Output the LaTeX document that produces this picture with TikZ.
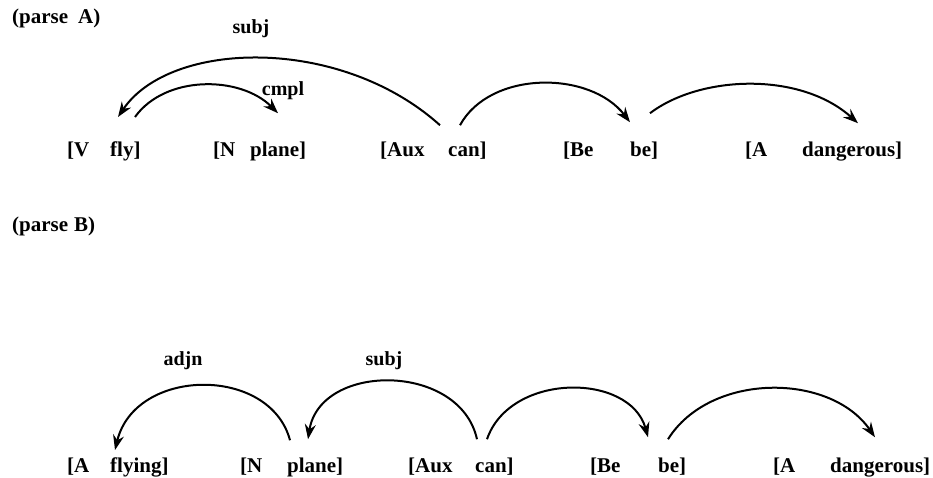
\documentclass[tikz,border=0pt]{standalone}
\usepackage{fontspec}
\setmainfont{Liberation Serif}
\usetikzlibrary{arrows.meta}

\tikzset{
  tok/.style={anchor=base west, inner sep=0pt, font=\fontsize{21}{25}\selectfont\bfseries},
  rel/.style={anchor=base, inner sep=0pt, font=\fontsize{20}{24}\selectfont\bfseries},
  dep/.style={line width=2pt, -{Stealth[length=15pt,width=11pt,inset=5pt]}},
}

\begin{document}
\begin{tikzpicture}[x=1pt, y=-1pt]
    \useasboundingbox (0,0) rectangle (933,478);

    % parse A
    \node[tok] (titleA) at (12,24) {(parse\hspace{10pt}A)};

    \node[tok] (catA1) at (67,157) {[V};
    \node[tok] (wordA1) at (110,157) {fly]};
    \node[tok] (catA2) at (213,157) {[N};
    \node[tok] (wordA2) at (250,157) {plane]};
    \node[tok] (catA3) at (380,157) {[Aux};
    \node[tok] (wordA3) at (448,157) {can]};
    \node[tok] (catA4) at (563,157) {[Be};
    \node[tok] (wordA4) at (630,157) {be]};
    \node[tok] (catA5) at (745,157) {[A};
    \node[tok] (wordA5) at (802,157) {dangerous]};

    \draw[dep] ([xshift=-8pt,yshift=17pt]wordA3.north west)
        .. controls +(-100,-90) and +(52,-77) .. ([xshift=8pt,yshift=25pt]wordA1.north west);
    \node[rel] (subjA) at (251,34) {subj};
    \draw[dep] ([xshift=25pt,yshift=25pt]wordA1.north west)
        .. controls +(30,-42) and +(-38,-38) .. ([xshift=28pt,yshift=29pt]wordA2.north west);
    \node[rel] (cmplA) at (283,96) {cmpl};
    \draw[dep] ([xshift=12pt,yshift=17pt]wordA3.north west)
        .. controls +(30,-55) and +(-40,-52) .. ([yshift=20pt]wordA4.north west);
    \draw[dep] ([xshift=20pt,yshift=29pt]wordA4.north west)
        .. controls +(50,-38) and +(-58,-52) .. ([xshift=56pt,yshift=19pt]wordA5.north west);

    % parse B
    \node[tok] (titleB) at (12,232) {(parse\hspace{6pt}B)};

    \node[tok] (catB1) at (67,472) {[A};
    \node[tok] (wordB1) at (110,472) {flying]};
    \node[tok] (catB2) at (240,472) {[N};
    \node[tok] (wordB2) at (287,472) {plane]};
    \node[tok] (catB3) at (408,472) {[Aux};
    \node[tok] (wordB3) at (475,472) {can]};
    \node[tok] (catB4) at (590,472) {[Be};
    \node[tok] (wordB4) at (658,472) {be]};
    \node[tok] (catB5) at (773,472) {[A};
    \node[tok] (wordB5) at (830,472) {dangerous]};

    \draw[dep] ([xshift=3pt,yshift=17pt]wordB2.north west)
        .. controls +(-20,-75) and +(20,-83) .. ([xshift=5pt,yshift=7pt]wordB1.north west);
    \node[rel] (adjnB) at (183,365) {adjn};
    \draw[dep] ([xshift=2pt,yshift=18pt]wordB3.north west)
        .. controls +(-17,-77) and +(12,-77) .. ([xshift=21pt,yshift=18pt]wordB2.north west);
    \node[rel] (subjB) at (384,365) {subj};
    \draw[dep] ([xshift=12pt,yshift=18pt]wordB3.north west)
        .. controls +(23,-67) and +(-18,-65) .. ([xshift=-10pt,yshift=20pt]wordB4.north west);
    \draw[dep] ([xshift=10pt,yshift=18pt]wordB4.north west)
        .. controls +(42,-67) and +(-45,-65) .. ([xshift=45pt,yshift=20pt]wordB5.north west);
\end{tikzpicture}
\end{document}
